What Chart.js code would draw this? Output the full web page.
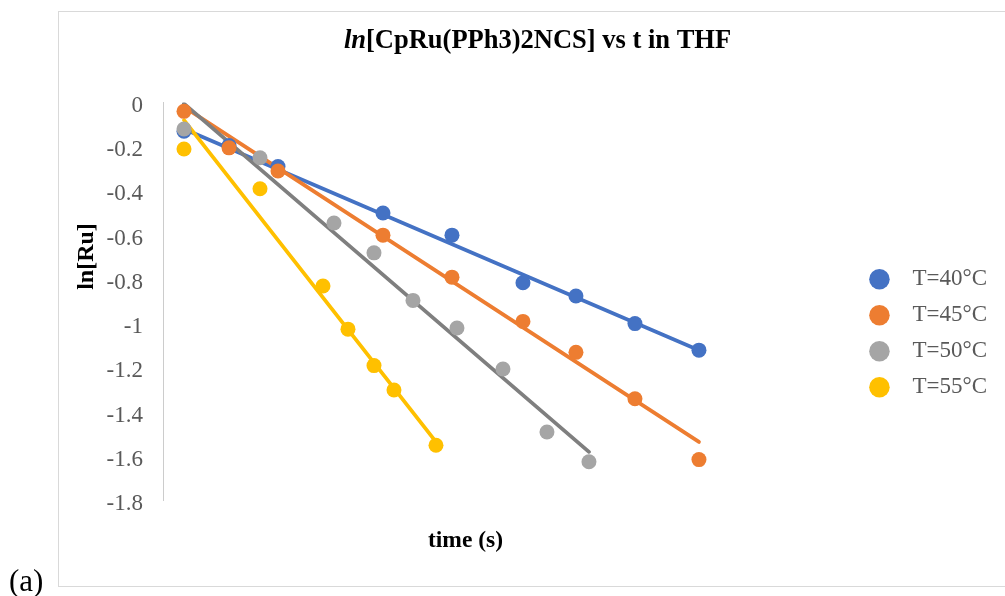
<!DOCTYPE html>
<html>
<head>
<meta charset="utf-8">
<title>ln[CpRu(PPh3)2NCS] vs t in THF</title>
<script src="https://cdn.jsdelivr.net/npm/chart.js@4.4.1/dist/chart.umd.min.js"></script>
<style>
  html, body { margin: 0; padding: 0; background: #fff; }
  #wrap { width: 1005px; height: 596px; }
</style>
</head>
<body>
<div id="wrap"><canvas id="rateChart" width="1005" height="596"></canvas></div>
<script>
// series names
const seriesNames = ['T=40°C', 'T=45°C', 'T=50°C', 'T=55°C'];

// time (s) of each sample
const time40 = [105, 330, 575, 1100, 1445, 1800, 2065, 2360, 2680];
const time45 = [105, 330, 575, 1100, 1445, 1800, 2065, 2360, 2680];
const time50 = [105, 485, 855, 1055, 1250, 1470, 1700, 1920, 2130];
const time55 = [105, 485, 800, 925, 1055, 1155, 1365];

// ln[Ru] measured
const lnRu40 = [-0.13, -0.195, -0.29, -0.50, -0.60, -0.815, -0.875, -1.00, -1.12];
const lnRu45 = [-0.04, -0.205, -0.31, -0.60, -0.79, -0.99, -1.13, -1.34, -1.615];
const lnRu50 = [-0.12, -0.25, -0.545, -0.68, -0.895, -1.02, -1.205, -1.49, -1.625];
const lnRu55 = [-0.21, -0.39, -0.83, -1.025, -1.19, -1.30, -1.55];

// linear trendlines: value at first and last sample time
const fit40 = [-0.12, -1.12];
const fit45 = [-0.02, -1.535];
const fit50 = [-0.005, -1.58];
const fit55 = [-0.08, -1.535];

// y axis
const yTicks = [0, -0.2, -0.4, -0.6, -0.8, -1, -1.2, -1.4, -1.6, -1.8];
const yTickLabels = ['0', '-0.2', '-0.4', '-0.6', '-0.8', '-1', '-1.2', '-1.4', '-1.6', '-1.8'];

const titleParts = ['ln', '[CpRu(PPh3)2NCS] vs t in THF'];
const yTitle = 'ln[Ru]';
const xTitle = 'time (s)';
const panelLabel = '(a)';

const pointColors = ['#4472C4', '#ED7D31', '#A5A5A5', '#FFC000'];
const lineColors = ['#4472C4', '#ED7D31', '#7F7F7F', '#FFC000'];
const serif = '"Liberation Serif", "Times New Roman", serif';

const times = [time40, time45, time50, time55];
const values = [lnRu40, lnRu45, lnRu50, lnRu55];
const fits = [fit40, fit45, fit50, fit55];

const datasets = [];
// markers (later series drawn on top)
times.forEach((t, i) => {
  datasets.push({
    label: seriesNames[i],
    data: t.map((x, j) => ({ x: x, y: values[i][j] })),
    backgroundColor: pointColors[i],
    borderColor: pointColors[i],
    pointRadius: 7.5,
    pointBorderWidth: 0,
    pointStyle: 'circle',
    showLine: false,
    order: 3 - i
  });
});
// trendlines, beneath the markers
times.forEach((t, i) => {
  datasets.push({
    label: seriesNames[i] + ' fit',
    isFit: true,
    data: [{ x: t[0], y: fits[i][0] }, { x: t[t.length - 1], y: fits[i][1] }],
    borderColor: lineColors[i],
    backgroundColor: lineColors[i],
    borderWidth: 3.8,
    borderCapStyle: 'round',
    pointRadius: 0,
    showLine: true,
    order: 23 - i
  });
});

const textPlugin = {
  id: 'textPlugin',
  beforeDraw(chart) {
    const ctx = chart.ctx;
    ctx.save();
    ctx.fillStyle = '#ffffff';
    ctx.fillRect(0, 0, chart.width, chart.height);
    ctx.strokeStyle = '#d9d9d9';
    ctx.lineWidth = 1;
    ctx.strokeRect(58.5, 11.5, 1000, 575);
    ctx.restore();
  },
  afterDraw(chart) {
    const ctx = chart.ctx;
    ctx.save();
    ctx.fillStyle = '#000';
    ctx.textBaseline = 'alphabetic';
    ctx.textAlign = 'left';
    // title with italic "ln"
    const fItalic = 'italic bold 26.5px ' + serif;
    const fBold = 'bold 26.5px ' + serif;
    ctx.font = fItalic;
    const w1 = ctx.measureText(titleParts[0]).width;
    ctx.font = fBold;
    const w2 = ctx.measureText(titleParts[1]).width;
    const x0 = 537.5 - (w1 + w2) / 2;
    ctx.font = fItalic;
    ctx.fillText(titleParts[0], x0, 48);
    ctx.font = fBold;
    ctx.fillText(titleParts[1], x0 + w1, 48);

    // x axis title
    ctx.font = 'bold 23.5px ' + serif;
    ctx.textAlign = 'center';
    ctx.fillText(xTitle, 465.5, 547);

    // y axis title
    ctx.save();
    ctx.translate(87, 256.5);
    ctx.rotate(-Math.PI / 2);
    ctx.textBaseline = 'middle';
    ctx.font = 'bold 24px ' + serif;
    ctx.fillText(yTitle, 0, 0);
    ctx.restore();

    // panel label
    ctx.textAlign = 'left';
    ctx.font = '31px ' + serif;
    ctx.fillText(panelLabel, 9, 591);
    ctx.restore();
  }
};

new Chart(document.getElementById('rateChart'), {
  type: 'scatter',
  data: { datasets: datasets },
  options: {
    responsive: false,
    animation: false,
    layout: { padding: { left: 63, top: 102.5, right: 18, bottom: 32 } },
    plugins: {
      title: { display: false },
      tooltip: { enabled: false },
      legend: {
        position: 'right',
        align: 'center',
        labels: {
          usePointStyle: true,
          boxHeight: 14.5,
          boxWidth: 23,
          padding: 13,
          textAlign: 'right',
          color: '#595959',
          font: { family: serif, size: 23 },
          filter: (item, data) => !data.datasets[item.datasetIndex].isFit,
          sort: (a, b) => a.datasetIndex - b.datasetIndex
        }
      }
    },
    scales: {
      x: {
        type: 'linear',
        min: 0,
        max: 3460,
        grid: { display: false, drawTicks: false },
        border: { display: false },
        ticks: { display: false },
        afterFit: (s) => { s.height = 63.5; }
      },
      y: {
        type: 'linear',
        min: -1.8,
        max: 0,
        grid: { display: false, drawTicks: false },
        border: { display: true, color: '#cccccc', width: 1 },
        afterBuildTicks: (s) => { s.ticks = yTicks.map(v => ({ value: v })); },
        ticks: {
          padding: 20,
          labelOffset: 3.5,
          color: '#595959',
          font: { family: serif, size: 23 },
          callback: (v) => yTickLabels[yTicks.findIndex(t => Math.abs(t - v) < 1e-9)]
        },
        afterFit: (s) => { s.width = 100; }
      }
    }
  },
  plugins: [textPlugin]
});
</script>
</body>
</html>
